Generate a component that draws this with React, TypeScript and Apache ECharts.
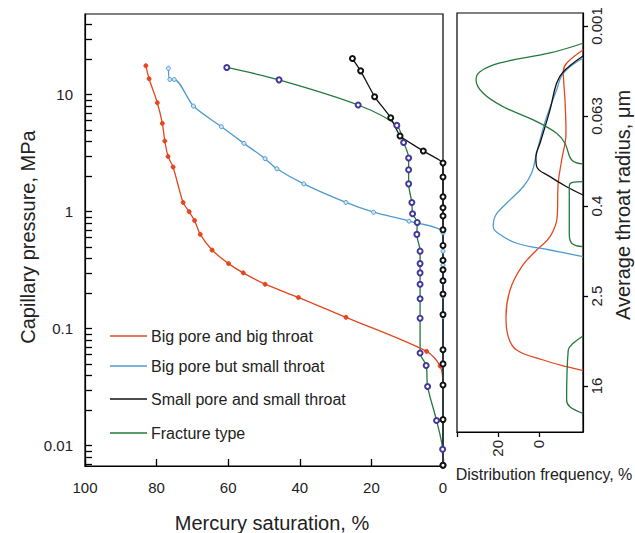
import React, { useEffect, useRef } from "react";
import * as echarts from "echarts";

const FONT = "'Liberation Sans', Arial, Helvetica, sans-serif";

// ---- axis ticks / labels ----
const pressureTicks = [0.01, 0.1, 1, 10];
const radiusLabels = ["0.001", "0.063", "0.4", "2.5", "16"];
const radiusPositions = [0, 1, 2, 3, 4];
const frequencyTicks = [0, 20, 40];
const frequencyLabels = [0, 20];

// ---- series names & colours ----
const seriesNames = [
  "Big pore and big throat",
  "Big pore but small throat",
  "Small pore and small throat",
  "Fracture type",
];
const RED = "#e4471f";
const BLUE = "#4f9ad0";
const BLACK = "#111111";
const GREEN = "#23793a";
const PURPLE = "#43379a";

// ---- capillary pressure curves: mercury saturation (%) vs pressure (MPa) ----
const bigBigSat = [83.0, 82.1, 79.8, 78.4, 77.7, 76.8, 75.4, 72.6, 70.9, 69.4, 67.8, 64.5, 59.9, 55.8, 49.7, 40.4, 27.1, 4.6, 0.8, 0, 0];
const bigBigPres = [17.7, 13.7, 8.55, 5.69, 4.02, 2.97, 2.41, 1.2, 1.0, 0.84, 0.64, 0.47, 0.36, 0.3, 0.24, 0.185, 0.125, 0.064, 0.048, 0.033, 0.0068];

const bigSmallSat = [76.7, 76.3, 75.1, 69.7, 61.9, 55.6, 49.7, 46.4, 38.9, 27.1, 19.4, 9.5, 0, 0, 0, 0, 0, 0, 0, 0, 0, 0, 0];
const bigSmallPres = [16.8, 13.5, 13.5, 8.0, 5.33, 3.84, 2.84, 2.33, 1.73, 1.2, 0.99, 0.83, 0.66, 0.46, 0.35, 0.25, 0.19, 0.127, 0.065, 0.049, 0.033, 0.0167, 0.0068];

const smallSmallSat = [25.3, 23.0, 19.1, 14.6, 12.0, 5.5, 0, 0, 0, 0, 0, 0, 0, 0, 0, 0, 0, 0, 0, 0, 0, 0, 0];
const smallSmallPres = [20.4, 16.0, 9.6, 6.36, 4.44, 3.3, 2.61, 1.98, 1.34, 1.08, 0.92, 0.7, 0.515, 0.384, 0.319, 0.257, 0.198, 0.132, 0.066, 0.05, 0.033, 0.0167, 0.0068];

const fractureSat = [60.4, 45.8, 23.7, 12.9, 11.0, 9.6, 9.6, 9.6, 8.7, 8.5, 7.2, 7.3, 6.4, 6.4, 6.4, 6.4, 6.4, 6.4, 6.4, 4.7, 4.3, 1.8, 0.1, 0];
const fracturePres = [17.1, 13.4, 8.17, 5.47, 3.91, 2.88, 2.28, 1.73, 1.2, 0.96, 0.81, 0.64, 0.46, 0.36, 0.3, 0.24, 0.18, 0.123, 0.062, 0.0485, 0.032, 0.0164, 0.0093, 0.0068];

// ---- throat radius distributions: frequency (%) vs radius class position ----
const bigBigFreq = [-21.5, -13.5, -11.9, -12.7, -13.2, -11.1, -9.4, -8.9, -5.4, 1.1, 8.4, 14.1, 16.1, 15.0, 10.9, -2.1, -13.5, -21.5];
const bigBigPos = [0.267, 0.414, 0.508, 0.822, 1.192, 1.489, 1.748, 2.119, 2.341, 2.489, 2.674, 2.933, 3.23, 3.452, 3.6, 3.711, 3.786, 3.83];

const bigSmallFreq = [-21.5, -11.9, -8.6, -3.8, -0.5, 1.5, 3.6, 7.7, 15.8, 21.5, 22.3, 19.9, 10.9, -5.4, -21.5];
const bigSmallPos = [0.356, 0.526, 0.711, 1.008, 1.267, 1.452, 1.637, 1.786, 1.97, 2.119, 2.23, 2.303, 2.414, 2.489, 2.563];

const smallSmallFreq = [-21.5, -11.9, -8.6, -5.4, -0.5, 1.5, 1.1, -5.4, -13.5, -21.5];
const smallSmallPos = [0.333, 0.508, 0.637, 0.933, 1.303, 1.452, 1.563, 1.674, 1.786, 1.878];

const fractureFreqA = [-21.5, -5.4, 19.0, 28.8, 30.7, 27.2, 17.4, 2.8, -8.6, -12.7, -16.0, -21.5];
const fracturePosA = [0.192, 0.3, 0.411, 0.508, 0.6, 0.748, 0.897, 1.044, 1.192, 1.303, 1.489, 1.533];
const fractureFreqB = [-21.5, -16.0, -14.8, -14.8, -16.0, -21.5];
const fracturePosB = [1.73, 1.741, 1.786, 2.303, 2.414, 2.452];
const fractureFreqC = [-21.5, -16.7, -14.3, -13.5, -15.1, -21.5];
const fracturePosC = [3.444, 3.526, 3.6, 4.156, 4.23, 4.303];

const zip = (a: number[], b: number[]) => a.map((v, i) => [v, b[i]]);

export default function App() {
  const ref = useRef<HTMLDivElement>(null);
  useEffect(() => {
    if (!ref.current) return;
    const chart = echarts.init(ref.current, null, { renderer: "svg" });

    const pcLine = (name: string, sat: number[], pres: number[], color: string, symbol: string, size: number, symColor: string, border: string, smooth: number) => ({
      name,
      type: "line",
      xAxisIndex: 0,
      yAxisIndex: 0,
      data: zip(sat, pres),
      smooth,
      symbol,
      symbolSize: size,
      showSymbol: true,
      lineStyle: { color, width: 1.3 },
      itemStyle: { color: symColor, borderColor: border, borderWidth: 1 },
      z: 3,
    });

    const distLine = (name: string, freq: number[], pos: number[], color: string) => ({
      name,
      type: "line",
      xAxisIndex: 1,
      yAxisIndex: 1,
      data: zip(freq, pos),
      smooth: 0.4,
      showSymbol: false,
      symbol: "none",
      lineStyle: { color, width: 1.3 },
    });

    const legendItems = [
      { y: 336, color: RED },
      { y: 366, color: BLUE },
      { y: 399, color: BLACK },
      { y: 433, color: GREEN },
    ];

    const graphic: any[] = [];
    legendItems.forEach((it, i) => {
      graphic.push({
        type: "line",
        shape: { x1: 110, y1: it.y, x2: 147, y2: it.y },
        style: { stroke: it.color, lineWidth: 1.3 },
      });
      graphic.push({
        type: "text",
        x: 151,
        y: it.y,
        style: { text: seriesNames[i], fontSize: 16, fontFamily: FONT, fill: "#222", verticalAlign: "middle", align: "left" },
      });
    });
    graphic.push(
      {
        type: "text",
        x: 28,
        y: 237,
        rotation: Math.PI / 2,
        style: { text: "Capillary pressure, MPa", fontSize: 20, fontFamily: FONT, fill: "#222", align: "center", verticalAlign: "middle" },
      },
      {
        type: "text",
        x: 272,
        y: 523,
        style: { text: "Mercury saturation, %", fontSize: 20, fontFamily: FONT, fill: "#222", align: "center", verticalAlign: "middle" },
      },
      {
        type: "text",
        x: 623,
        y: 205,
        rotation: Math.PI / 2,
        style: { text: "Average throat radius, μm", fontSize: 20, fontFamily: FONT, fill: "#222", align: "center", verticalAlign: "middle" },
      },
      {
        type: "text",
        x: 544,
        y: 474,
        style: { text: "Distribution frequency, %", fontSize: 16, fontFamily: FONT, fill: "#222", align: "center", verticalAlign: "middle" },
      }
    );

    const axisLine = { show: true, onZero: false, lineStyle: { color: "#000", width: 1.2 } };
    const tickStyle = { color: "#000", width: 1.3 };
    const labelStyle = { color: "#222", fontSize: 15, fontFamily: FONT };

    chart.setOption({
      animation: false,
      backgroundColor: "#fff",
      grid: [
        { left: 85, top: 14, right: 192, bottom: 67, show: true, borderColor: "#000", borderWidth: 1.2 },
        { left: 457, top: 13, right: 52, bottom: 101, show: true, borderColor: "#000", borderWidth: 1.2 },
      ],
      xAxis: [
        {
          gridIndex: 0,
          type: "value",
          min: 0,
          max: 100,
          interval: 20,
          inverse: true,
          axisLine,
          axisTick: { show: true, inside: true, length: 7, lineStyle: tickStyle },
          axisLabel: { ...labelStyle, margin: 14 },
          splitLine: { show: false },
        },
        {
          gridIndex: 1,
          type: "value",
          min: -21.5,
          max: 40,
          inverse: true,
          axisLine,
          axisTick: { show: true, inside: false, length: 5, customValues: frequencyTicks, lineStyle: tickStyle },
          axisLabel: { ...labelStyle, customValues: frequencyLabels, rotate: 90, margin: 8 },
          splitLine: { show: false },
        },
      ],
      yAxis: [
        {
          gridIndex: 0,
          type: "log",
          logBase: 10,
          min: 0.0067,
          max: 49,
          axisLine,
          axisTick: { show: true, inside: true, length: 7, customValues: pressureTicks, lineStyle: tickStyle },
          minorTick: { show: true, splitNumber: 9, length: 7, lineStyle: tickStyle },
          axisLabel: { ...labelStyle, customValues: pressureTicks, margin: 12, formatter: (v: number) => String(v) },
          splitLine: { show: false },
          minorSplitLine: { show: false },
        },
        {
          gridIndex: 1,
          type: "value",
          position: "right",
          min: -0.144,
          max: 4.511,
          inverse: true,
          axisLine,
          axisTick: { show: true, inside: false, length: 5, customValues: radiusPositions, lineStyle: tickStyle },
          axisLabel: {
            ...labelStyle,
            customValues: radiusPositions,
            rotate: 90,
            margin: 6,
            formatter: (v: number) => radiusLabels[Math.round(v)] ?? "",
          },
          splitLine: { show: false },
        },
      ],
      graphic,
      series: [
        pcLine(seriesNames[3], fractureSat, fracturePres, GREEN, "emptyCircle", 5, PURPLE, PURPLE, 0.3),
        pcLine(seriesNames[0], bigBigSat, bigBigPres, RED, "circle", 4, RED, RED, 0.3),
        pcLine(seriesNames[1], bigSmallSat, bigSmallPres, BLUE, "circle", 4, "#cfe6f5", BLUE, 0.3),
        pcLine(seriesNames[2], smallSmallSat, smallSmallPres, BLACK, "emptyCircle", 5, BLACK, BLACK, 0.1),
        distLine(seriesNames[0], bigBigFreq, bigBigPos, RED),
        distLine(seriesNames[1], bigSmallFreq, bigSmallPos, BLUE),
        distLine(seriesNames[2], smallSmallFreq, smallSmallPos, BLACK),
        distLine(seriesNames[3], fractureFreqA, fracturePosA, GREEN),
        distLine(seriesNames[3], fractureFreqB, fracturePosB, GREEN),
        distLine(seriesNames[3], fractureFreqC, fracturePosC, GREEN),
      ],
    });
    return () => chart.dispose();
  }, []);

  return (
    <div
      ref={ref}
      style={{ position: "fixed", left: 0, top: 0, width: 635, height: 533, background: "#fff" }}
    />
  );
}
